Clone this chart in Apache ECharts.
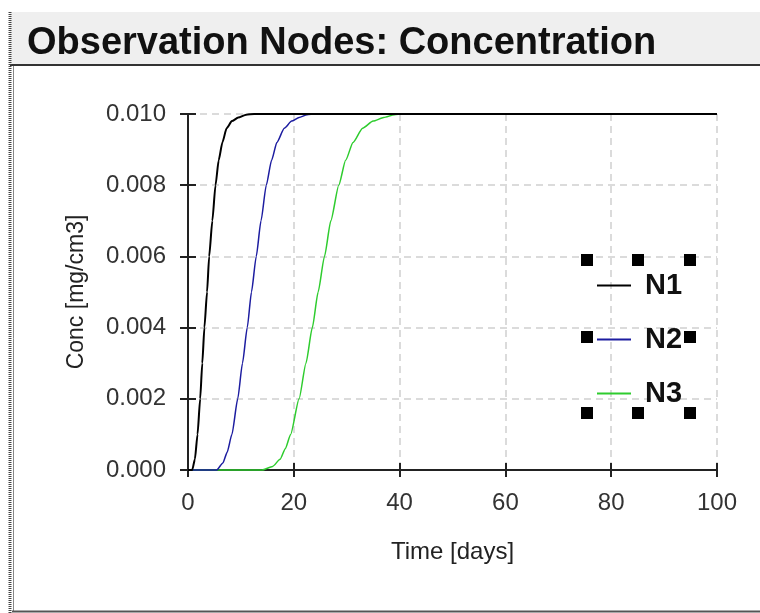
<!DOCTYPE html>
<html>
<head>
<meta charset="utf-8">
<script src="https://cdn.jsdelivr.net/npm/echarts@6/dist/echarts.min.js"></script>
<style>
html,body{margin:0;padding:0;background:#fff;}
#chart{width:760px;height:613px;}
</style>
</head>
<body>
<div id="chart"></div>
<script>
// ---- data ----
const seriesNames = ['N1', 'N2', 'N3'];
const xTicks = [0, 20, 40, 60, 80, 100];
const yTicks = [0.000, 0.002, 0.004, 0.006, 0.008, 0.010];

const n1Time = [0, 0.8, 1.3, 1.8, 2.3, 2.7, 3.1, 3.6, 4.0, 4.6, 5.2, 5.8, 6.5, 7.3, 8.3, 9.5, 11, 12.5, 100];
const n1Conc = [0, 0, 0.0003, 0.001, 0.002, 0.003, 0.004, 0.005, 0.006, 0.007, 0.008, 0.0087, 0.0092, 0.0096, 0.0098, 0.0099, 0.00998, 0.01, 0.01];

const n2Time = [0, 5.4, 6.6, 7.4, 8.3, 9.4, 10.3, 11.2, 12.0, 12.9, 13.8, 14.8, 15.8, 16.8, 18.2, 19.6, 21, 22.5, 24, 100];
const n2Conc = [0, 0, 0.0002, 0.0005, 0.001, 0.002, 0.003, 0.004, 0.005, 0.006, 0.007, 0.008, 0.0087, 0.0092, 0.0096, 0.0098, 0.0099, 0.00998, 0.01, 0.01];

const n3Time = [0, 14, 16, 17.4, 18.4, 19.4, 21.0, 22.3, 23.5, 24.6, 25.8, 27.0, 28.5, 29.8, 31.2, 33, 35, 37, 39, 40.5, 100];
const n3Conc = [0, 0, 0.0001, 0.0003, 0.0006, 0.001, 0.002, 0.003, 0.004, 0.005, 0.006, 0.007, 0.008, 0.0087, 0.0092, 0.0096, 0.0098, 0.0099, 0.00998, 0.01, 0.01];

const colors = ['#000000', '#1c1ca0', '#2ecc2e'];

function pairs(t, c) { return t.map((v, i) => [v, c[i]]); }
const seriesData = [pairs(n1Time, n1Conc), pairs(n2Time, n2Conc), pairs(n3Time, n3Conc)];

const FONT = 'Arial, "Liberation Sans", sans-serif';
const chart = echarts.init(document.getElementById('chart'), null, {renderer: 'canvas'});

const xMin = xTicks[0], xMax = xTicks[xTicks.length - 1];
const yMin = yTicks[0], yMax = yTicks[yTicks.length - 1];
const xInt = xTicks[1] - xTicks[0];
const yInt = yTicks[1] - yTicks[0];

const baseX = {type: 'value', min: xMin, max: xMax, interval: xInt, position: 'bottom'};
const baseY = {type: 'value', min: yMin, max: yMax, interval: yInt, position: 'left'};

// legend handle squares (decoration around the selected legend box)
const handles = [];
const hx = [587, 638, 690];
const hy = [260, 337, 413];
hx.forEach((x, i) => hy.forEach((y, j) => {
  if (i === 1 && j === 1) return;
  handles.push({type: 'rect', shape: {x: x - 6, y: y - 6, width: 12, height: 12}, style: {fill: '#000'}, z: 100});
}));

chart.setOption({
  animation: false,
  backgroundColor: '#ffffff',
  textStyle: {fontFamily: FONT},
  title: {
    text: 'Observation Nodes: Concentration',
    left: 22, top: 20,
    textStyle: {fontFamily: FONT, fontSize: 38, fontWeight: 'bold', color: '#111'}
  },
  grid: {left: 188, right: 43, top: 114, bottom: 143, containLabel: false},
  legend: {
    data: seriesNames,
    orient: 'vertical',
    left: 592, top: 266,
    itemWidth: 34, itemHeight: 2, itemGap: 25,
    icon: 'rect',
    selectedMode: false,
    textStyle: {fontFamily: FONT, fontSize: 29, fontWeight: 'bold', color: '#111', padding: [0, 0, 0, 9]}
  },
  xAxis: [
    Object.assign({}, baseX, {
      name: 'Time [days]', nameLocation: 'middle', nameGap: 70,
      nameTextStyle: {fontFamily: FONT, fontSize: 24, color: '#222'},
      axisLine: {show: true, lineStyle: {color: '#222', width: 2}},
      axisTick: {show: true, length: 7, lineStyle: {color: '#222', width: 2}},
      axisLabel: {fontFamily: FONT, fontSize: 24, color: '#333', margin: 21},
      splitLine: {show: true, lineStyle: {color: '#d0d0d0', type: [7, 5], width: 1.5}}
    }),
    Object.assign({}, baseX, {
      axisLine: {show: false},
      axisTick: {show: true, inside: true, length: 7, lineStyle: {color: '#222', width: 2}},
      axisLabel: {show: false}, splitLine: {show: false}
    })
  ],
  yAxis: [
    Object.assign({}, baseY, {
      name: 'Conc [mg/cm3]', nameLocation: 'middle', nameGap: 100,
      nameTextStyle: {fontFamily: FONT, fontSize: 23, color: '#222'},
      axisLine: {show: true, lineStyle: {color: '#222', width: 2}},
      axisTick: {show: true, length: 8, lineStyle: {color: '#222', width: 2}},
      axisLabel: {fontFamily: FONT, fontSize: 24, color: '#333', margin: 22,
                  formatter: v => v.toFixed(3)},
      splitLine: {show: true, lineStyle: {color: '#d0d0d0', type: [7, 5], width: 1.5}}
    }),
    Object.assign({}, baseY, {
      axisLine: {show: false},
      axisTick: {show: true, inside: true, length: 8, lineStyle: {color: '#222', width: 2}},
      axisLabel: {show: false}, splitLine: {show: false}
    })
  ],
  series: seriesNames.map((name, i) => ({
    name: name,
    type: 'line',
    data: seriesData[i],
    xAxisIndex: 0, yAxisIndex: 0,
    showSymbol: false,
    smooth: 0.2,
    smoothMonotone: 'x',
    color: colors[i],
    lineStyle: {color: colors[i], width: i === 0 ? 2 : 1.5},
    z: 10 - i,
    clip: false
  })),
  graphic: [
    {type: 'rect', shape: {x: 10, y: 12, width: 750, height: 53}, style: {fill: '#efefef'}, z: -10, silent: true},
    {type: 'line', shape: {x1: 10, y1: 65, x2: 760, y2: 65}, style: {stroke: '#333', lineWidth: 2}, z: -5},
    {type: 'line', shape: {x1: 10, y1: 12, x2: 10, y2: 613}, style: {stroke: '#444', lineWidth: 3, lineDash: [1, 1]}, z: -5},
    {type: 'line', shape: {x1: 13.5, y1: 66, x2: 13.5, y2: 611}, style: {stroke: '#888', lineWidth: 1}, z: -5},
    {type: 'line', shape: {x1: 12, y1: 611.5, x2: 760, y2: 611.5}, style: {stroke: '#555', lineWidth: 2}, z: -5}
  ].concat(handles)
});
</script>
</body>
</html>
